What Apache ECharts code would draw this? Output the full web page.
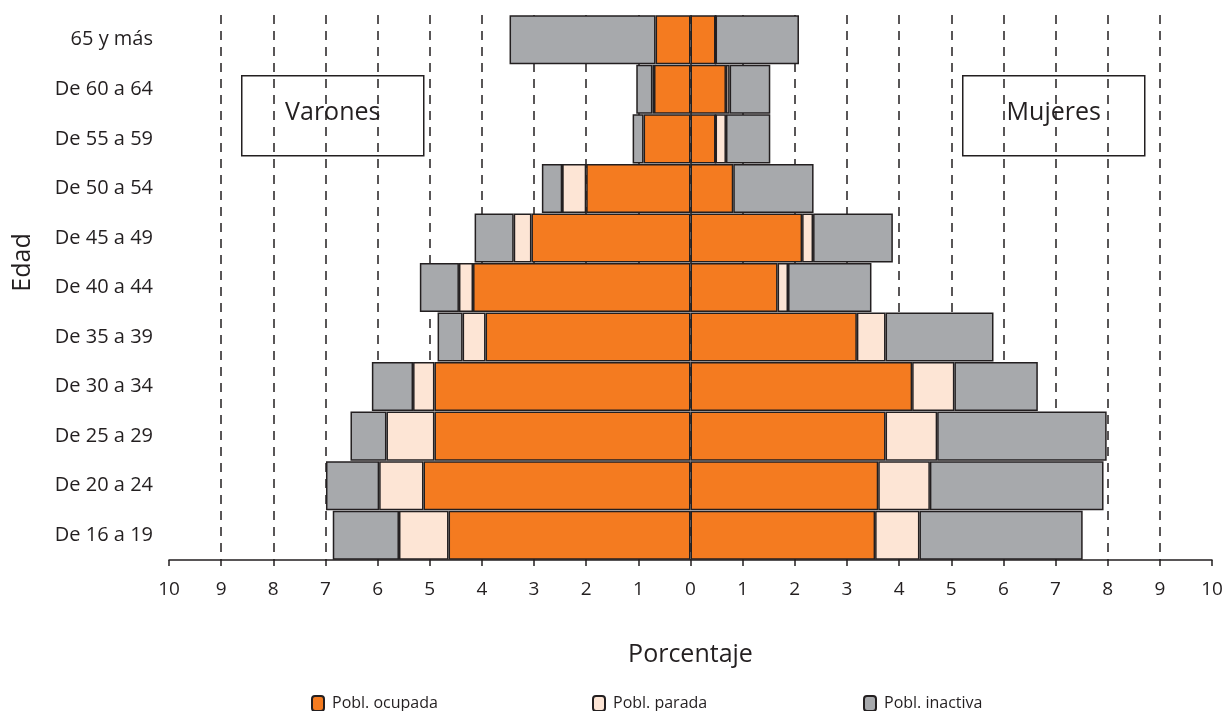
<!DOCTYPE html>
<html>
<head>
<meta charset="utf-8">
<script src="https://cdn.jsdelivr.net/npm/echarts@6/dist/echarts.min.js"></script>
<style>
  html, body { margin: 0; padding: 0; background: #fff; }
  #chart { width: 1222px; height: 711px; }
</style>
</head>
<body>
<div id="chart"></div>
<script>
// grupos de edad, de abajo hacia arriba
const edades = ['De 16 a 19', 'De 20 a 24', 'De 25 a 29', 'De 30 a 34', 'De 35 a 39',
  'De 40 a 44', 'De 45 a 49', 'De 50 a 54', 'De 55 a 59', 'De 60 a 64', '65 y más']

// varones (%)
const varonesOcupada = [4.64, 5.12, 4.91, 4.91, 3.93, 4.17, 3.05, 2.00, 0.90, 0.70, 0.67]
const varonesParada = [0.95, 0.85, 0.92, 0.41, 0.44, 0.27, 0.34, 0.46, 0.00, 0.03, 0.00]
const varonesInactiva = [1.27, 1.02, 0.69, 0.79, 0.48, 0.75, 0.75, 0.39, 0.21, 0.31, 2.80]

// mujeres (%)
const mujeresOcupada = [3.54, 3.60, 3.74, 4.25, 3.19, 1.67, 2.14, 0.82, 0.48, 0.68, 0.48]
const mujeresParada = [0.85, 0.99, 0.99, 0.81, 0.55, 0.20, 0.21, 0.00, 0.20, 0.07, 0.00]
const mujeresInactiva = [3.13, 3.33, 3.25, 1.60, 2.07, 1.60, 1.53, 1.54, 0.85, 0.78, 1.60]

const ink = '#231f20'
const font = '"Open Sans", "Noto Sans", sans-serif'
const colores = {
  'Pobl. ocupada': '#f47b20',
  'Pobl. parada': '#fde5d5',
  'Pobl. inactiva': '#a7a9ac'
}

function serie (name, data, negativo) {
  return {
    name: name,
    type: 'bar',
    stack: 'total',
    barCategoryGap: '1%',
    data: negativo ? data.map(v => -v) : data,
    itemStyle: {
      color: colores[name],
      borderColor: ink,
      borderWidth: 1.5
    }
  }
}

function leyenda (name, left) {
  return {
    data: [name],
    left: left,
    top: 695,
    padding: 0,
    itemWidth: 12,
    itemHeight: 15,
    selectedMode: false,
    textStyle: { fontFamily: font, fontSize: 16, color: ink, padding: [0, 0, 0, 3] }
  }
}

function caja (text, x) {
  return {
    type: 'group',
    left: x,
    top: 75,
    children: [
      {
        type: 'rect',
        shape: { x: 0, y: 0, width: 182, height: 80 },
        style: { fill: '#fff', stroke: ink, lineWidth: 1.5 }
      },
      {
        type: 'text',
        x: 91,
        y: 37,
        style: {
          text: text,
          fill: ink,
          font: '25px ' + font,
          align: 'center',
          verticalAlign: 'middle'
        }
      }
    ]
  }
}

const chart = echarts.init(document.getElementById('chart'))
chart.setOption({
  animation: false,
  backgroundColor: '#fff',
  grid: { left: 169, right: 10, top: 15, bottom: 151, containLabel: false, outerBoundsMode: 'none' },
  legend: [
    leyenda('Pobl. ocupada', 311),
    leyenda('Pobl. parada', 592),
    leyenda('Pobl. inactiva', 863)
  ],
  graphic: [caja('Varones', 241), caja('Mujeres', 962)],
  xAxis: {
    type: 'value',
    min: -10,
    max: 10,
    interval: 1,
    name: 'Porcentaje',
    nameLocation: 'middle',
    nameGap: 82,
    nameTextStyle: { fontFamily: font, fontSize: 25, color: ink },
    axisLine: { show: true, lineStyle: { color: ink, width: 1.5 } },
    axisTick: { show: true, length: 6, lineStyle: { color: ink, width: 1.5 } },
    axisLabel: {
      margin: 20,
      fontFamily: font,
      fontSize: 19,
      color: ink,
      formatter: v => Math.abs(v)
    },
    splitLine: {
      show: true,
      showMinLine: false,
      showMaxLine: false,
      lineStyle: { color: ink, width: 1.5, type: [9, 7] }
    }
  },
  yAxis: {
    type: 'category',
    data: edades,
    name: 'Edad',
    nameLocation: 'middle',
    nameGap: 134,
    nameRotate: 90,
    nameTextStyle: { fontFamily: font, fontSize: 25, color: ink, padding: [0, 0, 0, 50] },
    axisLine: { show: false },
    axisTick: { show: false },
    axisLabel: { margin: 16, fontFamily: font, fontSize: 20, color: ink }
  },
  series: [
    serie('Pobl. ocupada', varonesOcupada, true),
    serie('Pobl. ocupada', mujeresOcupada, false),
    serie('Pobl. parada', varonesParada, true),
    serie('Pobl. parada', mujeresParada, false),
    serie('Pobl. inactiva', varonesInactiva, true),
    serie('Pobl. inactiva', mujeresInactiva, false)
  ]
})
</script>
</body>
</html>
